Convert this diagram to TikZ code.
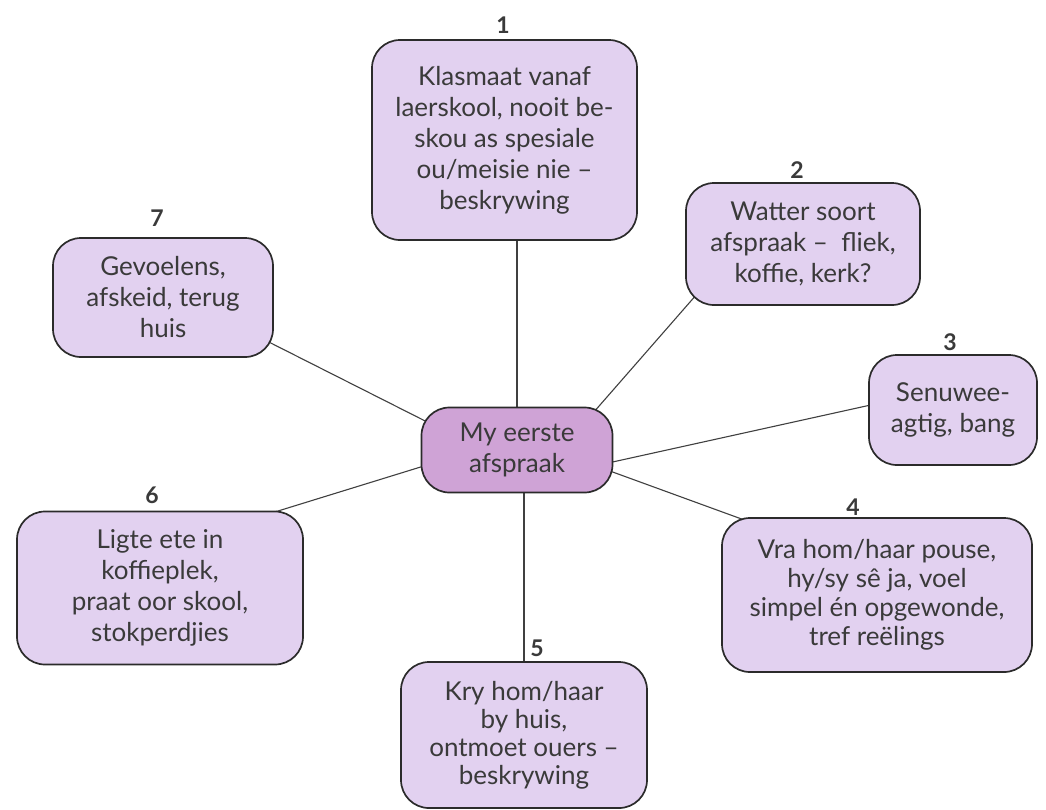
\documentclass[tikz,border=0pt]{standalone}
\usepackage{fontspec}
\setmainfont{Lato}
\usetikzlibrary{backgrounds}
\definecolor{boxfill}{HTML}{E2D1F0}
\definecolor{hubfill}{HTML}{CFA3D6}
\definecolor{ink}{HTML}{3A3A3A}
\definecolor{edgecol}{HTML}{2B2B2B}
\definecolor{linkcol}{HTML}{404040}
\begin{document}
\begin{tikzpicture}[x=1pt,y=-1pt,
  idea/.style={draw=edgecol, line width=1.7pt, fill=boxfill, rounded corners=28pt,
    align=center, text=ink, inner sep=0pt, font=\fontsize{26}{31}\selectfont},
  hub/.style={idea, fill=hubfill, rounded corners=28pt},
  num/.style={text=ink, font=\fontsize{23}{23}\selectfont\bfseries},
  link/.style={draw=linkcol, line width=1.1pt, shorten <=-14pt, shorten >=-14pt}]
\useasboundingbox (0,0) rectangle (1046,809);

\node[hub, minimum width=191pt, minimum height=85pt] (c) at (517,450) {My eerste\\afspraak};

\node[idea, minimum width=265pt, minimum height=200pt] (n1) at (504.5,140)
  {Klasmaat vanaf\\laerskool, nooit be-\\skou as spesiale\\ou/meisie nie –\\beskrywing};
\node[idea, minimum width=234pt, minimum height=122pt] (n2) at (803,244)
  {Watter soort\\afspraak –\ \ fliek,\\koffie, kerk?};
\node[idea, minimum width=168pt, minimum height=110pt] (n3) at (953,410)
  {Senuwee-\\agtig, bang};
\node[idea, minimum width=310pt, minimum height=154pt, font=\fontsize{26}{29}\selectfont] (n4) at (877,595)
  {Vra hom/haar pouse,\\hy/sy sê ja, voel\\simpel én opgewonde,\\tref reëlings};
\node[idea, minimum width=246pt, minimum height=146pt, font=\fontsize{26}{28}\selectfont] (n5) at (524,735)
  {Kry hom/haar\\by huis,\\ontmoet ouers –\\beskrywing};
\node[idea, minimum width=286pt, minimum height=153pt] (n6) at (160,588)
  {Ligte ete in\\koffieplek,\\praat oor skool,\\stokperdjies};
\node[idea, minimum width=220pt, minimum height=119pt] (n7) at (163,297.5)
  {Gevoelens,\\afskeid, terug\\huis};

\node[num] (l1) at (503,25) {1};
\node[num] (l2) at (797,170) {2};
\node[num] (l3) at (950,342) {3};
\node[num] (l4) at (853,507) {4};
\node[num] (l5) at (537,648) {5};
\node[num] (l6) at (152,495) {6};
\node[num] (l7) at (157,218) {7};

\begin{scope}[on background layer]
  \fill[white] (0,0) rectangle (1046,809);
  \draw[link] (c.north) -- (c.north |- n1.south);
  \draw[link] (c.28) -- (n2.208.5);
  \draw[link] (c.-7) -- (n3.177.3);
  \draw[link] (c.-13) -- (n4.151.75);
  \draw[link] (n5.north) -- (n5.north |- c.south);
  \draw[link] (c.190) -- (n6.33.5);
  \draw[link] (c.162.5) -- (n7.-23);
\end{scope}
\end{tikzpicture}
\end{document}
